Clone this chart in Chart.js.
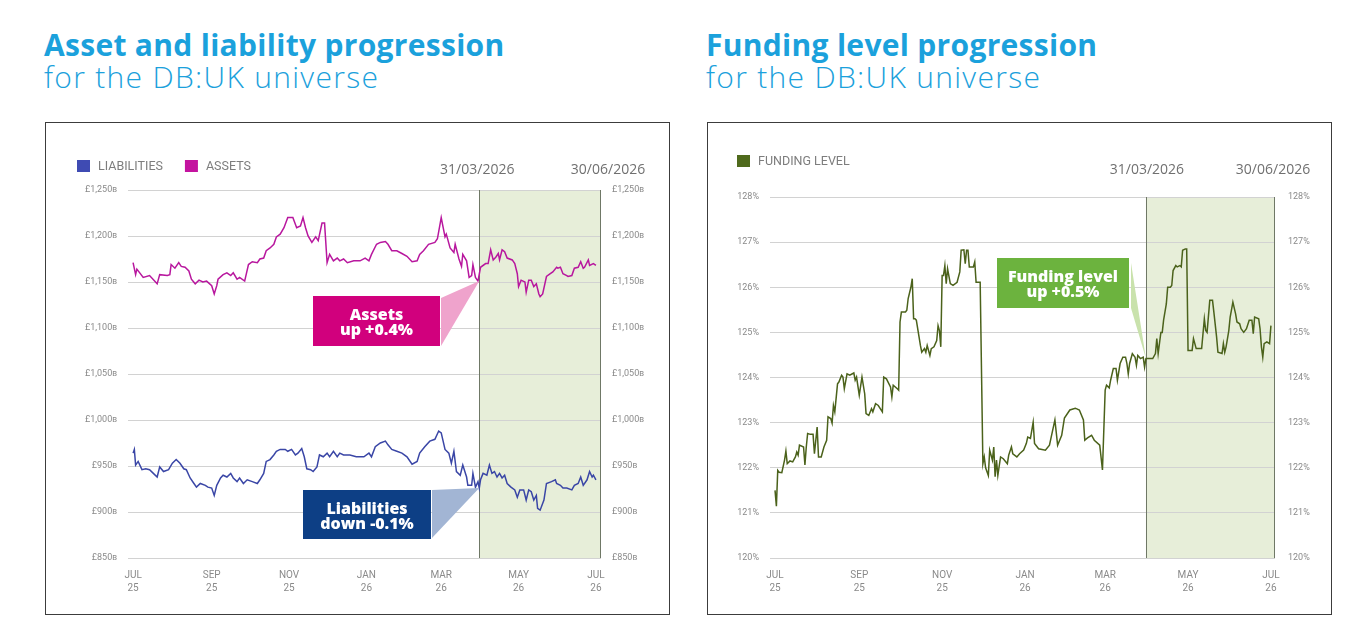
<!DOCTYPE html>
<html><head><meta charset="utf-8">
<script src="https://cdn.jsdelivr.net/npm/chart.js@4.4.1/dist/chart.umd.min.js"></script>
<style>
html,body{margin:0;padding:0;background:#fff;width:1354px;height:629px;overflow:hidden}
.title{position:absolute;font-family:'Open Sans',sans-serif;color:#1ba1dc;font-size:30px;line-height:32px;white-space:nowrap}
.title b{font-weight:700;display:block;letter-spacing:0.3px}
.title span{font-weight:300;display:block;letter-spacing:1.3px}
.panel{position:absolute;top:122px;width:623px;height:491px;border:1px solid #3c3c3c}
.panel canvas{position:absolute;left:0;top:0}
</style></head>
<body>
<div class="title" style="left:44px;top:29px"><b>Asset and liability progression</b><span>for the DB:UK universe</span></div>
<div class="title" style="left:706px;top:29px"><b>Funding level progression</b><span>for the DB:UK universe</span></div>
<div class="panel" style="left:45px"><canvas id="c1" width="623" height="491" style="width:623px;height:491px"></canvas></div>
<div class="panel" style="left:707px"><canvas id="c2" width="623" height="491" style="width:623px;height:491px"></canvas></div>
<script>
// ---- DATA (x = days since 1 Jul 2025) ----
const monthTickDays = [0, 62, 123, 184, 243, 304, 365];
const monthLabels = [['JUL','25'],['SEP','25'],['NOV','25'],['JAN','26'],['MAR','26'],['MAY','26'],['JUL','26']];
const quarterStartDay = 273; // 31/03/2026
const dateLabels = ['31/03/2026', '30/06/2026'];

const assetSeries = [[0,1171],[2,1158],[3,1164],[8,1155],[13,1157],[19,1148],[21,1158],[27,1157],[29,1158],[30,1169],[33,1165],[36,1171],[38,1167],[41,1166],[44,1162],[46,1153],[49,1148],[52,1152],[55,1150],[58,1151],[62,1146],[64,1137],[66,1146],[67,1153],[71,1158],[74,1160],[77,1157],[79,1160],[82,1153],[84,1155],[88,1151],[91,1169],[94,1172],[98,1171],[100,1175],[103,1176],[105,1184],[108,1187],[111,1191],[113,1199],[116,1202],[119,1209],[122,1220],[126,1220],[129,1209],[132,1211],[134,1220],[136,1209],[138,1200],[141,1193],[144,1199],[146,1195],[149,1214],[151,1214],[153,1171],[155,1180],[158,1173],[161,1176],[163,1173],[166,1175],[169,1171],[174,1173],[179,1173],[183,1176],[186,1173],[188,1180],[192,1191],[195,1193],[199,1194],[201,1191],[204,1184],[208,1184],[212,1181],[216,1178],[220,1172],[224,1173],[226,1180],[229,1184],[233,1191],[238,1193],[240,1197],[243,1220],[244,1213],[246,1199],[247,1202],[250,1187],[253,1182],[254,1191],[257,1175],[259,1167],[260,1180],[263,1173],[265,1155],[267,1157],[268,1169],[270,1155],[272,1151],[274,1166],[278,1170],[280,1170],[282,1185],[284,1174],[286,1177],[288,1181],[289,1174],[291,1185],[293,1183],[295,1176],[299,1174],[301,1170],[303,1159],[304,1145],[306,1152],[309,1150],[310,1139],[312,1152],[314,1152],[316,1145],[318,1148],[320,1137],[321,1134],[323,1137],[326,1156],[329,1159],[331,1161],[334,1166],[335,1165],[337,1166],[339,1159],[342,1157],[343,1156],[346,1157],[348,1165],[351,1166],[353,1172],[355,1165],[356,1166],[359,1174],[360,1168],[363,1170],[365,1168]];

const liabilitySeries = [[0,964],[1,968],[2,951],[4,955],[7,946],[10,947],[13,946],[16,942],[19,938],[21,949],[24,944],[28,946],[31,953],[34,957],[37,953],[40,947],[42,946],[45,937],[48,931],[50,927],[53,931],[57,929],[59,927],[62,926],[64,918],[66,929],[69,937],[71,940],[74,938],[77,942],[79,937],[82,933],[84,937],[87,931],[90,935],[94,933],[98,931],[100,935],[103,942],[105,955],[108,957],[111,962],[113,966],[116,968],[120,968],[122,966],[125,968],[128,962],[130,964],[133,969],[135,960],[137,947],[140,946],[142,944],[145,949],[147,962],[150,960],[153,964],[155,960],[158,966],[161,960],[163,964],[166,962],[171,962],[176,960],[182,960],[186,964],[188,960],[191,971],[195,975],[199,977],[201,973],[204,968],[208,966],[212,964],[216,960],[220,952],[224,955],[226,964],[230,971],[234,977],[238,979],[241,988],[243,986],[246,968],[249,964],[251,953],[253,966],[255,944],[258,940],[260,951],[263,938],[264,929],[267,929],[268,942],[270,927],[272,933],[273,926],[274,935],[276,942],[279,940],[281,951],[283,942],[285,944],[287,938],[289,942],[291,937],[293,940],[295,931],[298,927],[301,924],[303,916],[305,924],[308,924],[310,913],[312,924],[314,922],[316,913],[318,918],[319,904],[321,902],[324,913],[326,931],[330,933],[333,935],[334,931],[337,929],[339,926],[342,926],[346,924],[348,929],[351,931],[353,938],[355,929],[358,935],[360,944],[362,938],[363,940],[365,935]];

const fundingSeries = [[0,121.5],[1,121.15],[2,121.94],[3,121.9],[5,121.89],[7,122.17],[8,122.37],[9,122.09],[11,122.15],[13,122.13],[15,122.24],[16,122.35],[17,122.28],[18,122.5],[21,122.46],[22,122.06],[23,122.46],[24,122.76],[26,122.74],[28,122.74],[29,122.31],[31,122.9],[32,122.24],[34,122.24],[36,122.46],[38,122.61],[39,123.13],[41,123.09],[42,122.99],[43,123.38],[44,123.24],[46,123.86],[47,123.9],[49,124.05],[50,124.01],[51,123.75],[53,124.08],[55,124.05],[58,124.1],[59,123.94],[60,124.01],[62,123.61],[64,124.01],[66,123.64],[67,123.2],[69,123.16],[71,123.31],[72,123.24],[74,123.42],[76,123.38],[79,123.24],[80,124.01],[82,123.97],[85,123.79],[86,123.57],[87,123.83],[90,123.75],[91,123.72],[92,125.23],[93,125.45],[96,125.45],[97,125.49],[98,125.75],[100,126.0],[101,126.19],[102,125.3],[103,125.3],[104,125.27],[106,124.9],[107,124.71],[108,124.56],[110,124.64],[111,124.56],[112,124.71],[114,124.49],[115,124.64],[117,124.68],[119,124.82],[120,125.15],[121,125.04],[122,124.68],[123,126.26],[124,126.26],[125,126.48],[126,126.08],[127,126.41],[129,126.08],[131,126.04],[134,126.11],[136,126.34],[137,126.82],[139,126.83],[140,126.52],[141,126.82],[142,126.82],[143,126.45],[146,126.45],[147,126.56],[148,126.11],[151,126.11],[153,122.09],[154,122.24],[155,122.0],[157,121.83],[158,122.39],[160,122.17],[161,122.46],[162,121.8],[163,122.17],[164,121.83],[166,122.24],[168,122.2],[171,122.09],[172,122.28],[174,122.46],[175,122.31],[178,122.24],[180,122.31],[183,122.39],[185,122.54],[186,122.68],[188,122.65],[190,123.01],[191,122.54],[194,122.42],[199,122.39],[202,122.5],[206,123.06],[208,122.5],[211,122.72],[213,123.1],[217,123.28],[221,123.32],[224,123.28],[227,123.06],[228,122.61],[230,122.66],[233,122.72],[235,122.61],[239,122.5],[241,121.95],[243,123.72],[244,123.83],[246,123.77],[247,123.94],[249,124.2],[251,124.2],[252,123.94],[254,124.31],[256,124.45],[258,124.45],[259,124.31],[260,124.08],[261,124.31],[263,124.53],[265,124.45],[266,124.27],[267,124.49],[269,124.42],[271,124.45],[272,124.23],[273,124.42],[276,124.42],[278,124.42],[280,124.53],[281,124.86],[282,124.53],[284,125.0],[285,125.0],[286,125.27],[288,125.63],[289,126.0],[291,126.0],[292,126.04],[293,126.37],[295,126.48],[296,126.45],[298,126.48],[299,126.45],[300,126.82],[302,126.85],[303,126.85],[304,124.6],[305,124.6],[307,124.6],[308,124.86],[310,124.64],[312,124.64],[314,124.64],[316,125.3],[317,125.04],[318,125.0],[320,125.71],[322,125.71],[323,125.45],[325,124.9],[326,124.56],[329,124.53],[330,124.75],[331,124.56],[332,124.68],[334,125.04],[335,125.34],[337,125.67],[339,125.41],[340,125.23],[342,125.19],[343,125.08],[345,125.0],[347,125.08],[349,125.27],[351,125.27],[352,124.97],[353,125.34],[356,125.3],[357,125.08],[358,124.68],[359,124.45],[360,124.75],[362,124.79],[364,124.75],[365,125.15]];

const assetTicks = {min: 850, max: 1250, step: 50};
const fundingTicks = {min: 120, max: 128, step: 1};

// ---- RENDERING ----
Chart.defaults.font.family = 'Roboto, sans-serif';
const toPts = s => s.map(p => ({x: p[0], y: p[1]}));
const gbp = v => '£' + (v >= 1000 ? Math.floor(v/1000) + ',' + String(v % 1000).padStart(3, '0') : v) + 'ʙ';
const pct = v => v + '%';

const decor = {
  id: 'decor',
  beforeDraw(chart, args, o) {
    const {ctx, chartArea: a, scales: {x}} = chart;
    const sx = x.getPixelForValue(o.shadeFrom);
    ctx.save();
    ctx.fillStyle = '#e7eed9';
    ctx.fillRect(sx, a.top, a.right - sx, a.bottom - a.top);
    ctx.restore();
  },
  beforeDatasetsDraw(chart, args, o) {
    const {ctx, chartArea: a, scales: {x}} = chart;
    const sx = Math.round(x.getPixelForValue(o.shadeFrom)) + 0.5;
    const rx = Math.round(a.right) - 0.5;
    ctx.save();
    ctx.strokeStyle = '#6f7866'; ctx.lineWidth = 1;
    ctx.beginPath();
    ctx.moveTo(sx, a.top); ctx.lineTo(sx, a.bottom);
    ctx.moveTo(rx, a.top); ctx.lineTo(rx, a.bottom);
    ctx.stroke();
    ctx.restore();
  },
  afterDatasetsDraw(chart, args, o) {
    const {ctx, chartArea: a, scales: {x, y}} = chart;
    ctx.save();
    for (const c of o.callouts) {
      const data = chart.data.datasets[c.dataset].data;
      const pt = data.filter(p => p.x <= o.shadeFrom).pop();
      const tx = x.getPixelForValue(o.shadeFrom), ty = y.getPixelForValue(pt.y);
      const [bl, bt, bw, bh] = c.box;
      const bx = a.left + bl, by = a.top + bt;
      ctx.fillStyle = c.pointer;
      ctx.beginPath();
      ctx.moveTo(bx + bw + c.base[0], by + c.base[1]);
      ctx.lineTo(tx, ty);
      ctx.lineTo(bx + bw + c.base[0], by + c.base[2]);
      ctx.closePath(); ctx.fill();
      ctx.fillStyle = c.color;
      ctx.fillRect(bx, by, bw, bh);
      ctx.fillStyle = '#fff';
      ctx.font = '800 16px "Open Sans", sans-serif';
      ctx.textAlign = 'center'; ctx.textBaseline = 'middle';
      c.lines.forEach((t, i) => ctx.fillText(t, bx + bw / 2, by + 19 + i * 15.5));
    }
    ctx.restore();
  },
  afterDraw(chart, args, o) {
    const {ctx, chartArea: a, scales: {x}} = chart;
    ctx.save();
    // legend
    ctx.font = '12.5px Roboto, sans-serif';
    ctx.textBaseline = 'middle'; ctx.textAlign = 'left';
    let lx = o.legend.x;
    chart.data.datasets.forEach(ds => {
      ctx.fillStyle = ds.legendColor;
      ctx.fillRect(lx, o.legend.y - 6, 13, 12);
      ctx.fillStyle = '#7d7d7d';
      const t = ds.label.toUpperCase();
      ctx.fillText(t, lx + 21, o.legend.y + 0.5);
      lx += 21 + ctx.measureText(t).width + 22;
    });
    // date labels
    ctx.font = '14px "Open Sans", sans-serif';
    ctx.textAlign = 'center';
    ctx.fillStyle = '#707070';
    ctx.fillText(dateLabels[0], x.getPixelForValue(o.shadeFrom) + o.dateDx[0], o.dateY);
    ctx.fillText(dateLabels[1], a.right + o.dateDx[1], o.dateY);
    ctx.restore();
  }
};

function xScale(min, max) {
  return {
    type: 'linear', min, max,
    grid: {display: false}, border: {display: false},
    afterBuildTicks: s => { s.ticks = monthTickDays.map(v => ({value: v})); },
    afterFit: s => { s.height = 56; },
    ticks: {autoSkip: false, maxRotation: 0, minRotation: 0, padding: 3, color: '#8a8a8a',
            font: {size: 10, lineHeight: 1.3}, callback: (v, i) => monthLabels[i]}
  };
}
function yScale(t, pos, width, pad, fmt, grid) {
  return {
    type: 'linear', position: pos, min: t.min, max: t.max,
    grid: {display: grid, color: '#d2d2d2', lineWidth: 1, drawTicks: false},
    border: {display: false},
    afterFit: s => { s.width = width; },
    ticks: {stepSize: t.step, padding: pad, color: '#8a8a8a', font: {size: 9}, callback: fmt}
  };
}

new Chart(document.getElementById('c1'), {
  type: 'line',
  data: {datasets: [
    {label: 'Liabilities', data: toPts(liabilitySeries), borderColor: '#3a46a6', legendColor: '#3f4bb3', borderWidth: 1.5, pointRadius: 0, tension: 0},
    {label: 'Assets', data: toPts(assetSeries), borderColor: '#b8179e', legendColor: '#c4139f', borderWidth: 1.5, pointRadius: 0, tension: 0}
  ]},
  options: {
    responsive: false, animation: false,
    layout: {padding: {top: 67, left: 0, right: 0, bottom: 0}},
    plugins: {
      legend: {display: false}, tooltip: {enabled: false},
      decor: {
        shadeFrom: quarterStartDay, dateY: 47, dateDx: [-2, 7],
        legend: {x: 31, y: 43},
        callouts: [
          {dataset: 1, lines: ['Assets', 'up +0.4%'], color: '#d1007d', pointer: '#efa3cc', box: [185, 106, 127, 50], base: [1, 2, 50]},
          {dataset: 0, lines: ['Liabilities', 'down -0.1%'], color: '#0d3f85', pointer: '#a2b5d4', box: [175, 300, 128, 49], base: [1, 0, 48]}
        ]
      }
    },
    scales: {
      x: xScale(-4, 369),
      y: yScale(assetTicks, 'left', 82, 11, gbp, true),
      y2: yScale(assetTicks, 'right', 68, 11, gbp, false)
    }
  },
  plugins: [decor]
});

new Chart(document.getElementById('c2'), {
  type: 'line',
  data: {datasets: [
    {label: 'Funding level', data: toPts(fundingSeries), borderColor: '#4b621b', legendColor: '#4f6a1c', borderWidth: 1.5, pointRadius: 0, tension: 0}
  ]},
  options: {
    responsive: false, animation: false,
    layout: {padding: {top: 74, left: 0, right: 0, bottom: 0}},
    plugins: {
      legend: {display: false}, tooltip: {enabled: false},
      decor: {
        shadeFrom: quarterStartDay, dateY: 47, dateDx: [1, -2],
        legend: {x: 29, y: 38},
        callouts: [
          {dataset: 0, lines: ['Funding level', 'up +0.5%'], color: '#6cb33e', pointer: '#c9e2ac', box: [227, 61, 132, 50], base: [2, 5, 50]}
        ]
      }
    },
    scales: {
      x: xScale(-3.7, 368),
      y: yScale(fundingTicks, 'left', 62, 11, pct, true),
      y2: yScale(fundingTicks, 'right', 56, 13, pct, false)
    }
  },
  plugins: [decor]
});
</script>
</body></html>
